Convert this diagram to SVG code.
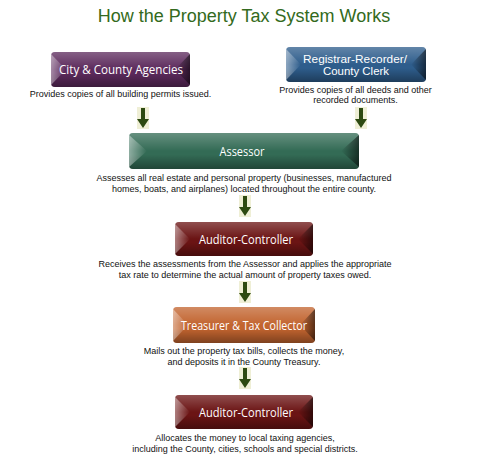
<svg xmlns="http://www.w3.org/2000/svg" width="485" height="460" viewBox="0 0 485 460">
<style>
.title{font-family:"Liberation Sans",Arial,sans-serif;font-size:18px;fill:#336a20;text-anchor:middle}
.lbl{font-family:"Open Sans","DejaVu Sans",sans-serif;font-size:12px;fill:#ffffff;text-anchor:middle}
.lbl2{font-family:"Liberation Sans",Arial,sans-serif;font-size:11px;fill:#ffffff;text-anchor:middle}
.desc{font-family:"Liberation Sans",Arial,sans-serif;font-size:9px;fill:#111111;text-anchor:middle}
.abg{fill:#efefd6}
.arr{fill:#2d4a12}
</style>
<defs>
<linearGradient id="gl" x1="0" y1="0" x2="1" y2="0"><stop offset="0" stop-color="#fff" stop-opacity="0.45"/><stop offset="1" stop-color="#fff" stop-opacity="0"/></linearGradient>
<linearGradient id="gr" x1="0" y1="0" x2="1" y2="0"><stop offset="0" stop-color="#000" stop-opacity="0"/><stop offset="1" stop-color="#000" stop-opacity="0.55"/></linearGradient>
<linearGradient id="gt" x1="0" y1="0" x2="0" y2="1"><stop offset="0" stop-color="#fff" stop-opacity="0.25"/><stop offset="0.5" stop-color="#fff" stop-opacity="0"/><stop offset="0.6" stop-color="#000" stop-opacity="0"/><stop offset="1" stop-color="#000" stop-opacity="0.35"/></linearGradient>
</defs>
<text class="title" x="244" y="22">How the Property Tax System Works</text>

<g id="city">
<rect x="51" y="52" width="139" height="35" rx="4" fill="#5c2a5c"/>
<rect x="51" y="52" width="139" height="35" rx="4" fill="url(#gt)"/>
<path d="M51,54 L66,69.5 L51,85 Z" fill="url(#gl)"/>
<path d="M190,54 L175,69.5 L190,85 Z" fill="url(#gr)"/>
<text class="lbl" x="121" y="74" textLength="124" lengthAdjust="spacingAndGlyphs">City &amp; County Agencies</text>
<text class="desc" x="120.5" y="97">Provides copies of all building permits issued.</text>
</g>

<g id="registrar">
<rect x="286" y="47" width="140" height="35" rx="4" fill="#2e5d8c"/>
<rect x="286" y="47" width="140" height="35" rx="4" fill="url(#gt)"/>
<path d="M286,49 L301,64.5 L286,80 Z" fill="url(#gl)"/>
<path d="M426,49 L411,64.5 L426,80 Z" fill="url(#gr)"/>
<text class="lbl2" x="355" y="62.5" textLength="104" lengthAdjust="spacingAndGlyphs">Registrar-Recorder/</text>
<text class="lbl2" x="356" y="75" textLength="66" lengthAdjust="spacingAndGlyphs">County Clerk</text>
<text class="desc" x="355.5" y="93">Provides copies of all deeds and other</text>
<text class="desc" x="355.5" y="103">recorded documents.</text>
</g>

<g id="assessor">
<rect x="129" y="133" width="230" height="36" rx="4" fill="#336b55"/>
<rect x="129" y="133" width="230" height="36" rx="4" fill="url(#gt)"/>
<path d="M129,135 L147,151 L129,167 Z" fill="url(#gl)"/>
<path d="M359,135 L341,151 L359,167 Z" fill="url(#gr)"/>
<text class="lbl" x="242" y="155.5" textLength="45" lengthAdjust="spacingAndGlyphs">Assessor</text>
<text class="desc" x="244" y="181">Assesses all real estate and personal property (businesses, manufactured</text>
<text class="desc" x="244" y="191.5">homes, boats, and airplanes) located throughout the entire county.</text>
</g>

<g id="auditor1">
<rect x="175" y="222" width="138" height="34" rx="4" fill="#6b1414"/>
<rect x="175" y="222" width="138" height="34" rx="4" fill="url(#gt)"/>
<path d="M175,224 L190,239 L175,254 Z" fill="url(#gl)"/>
<path d="M313,224 L298,239 L313,254 Z" fill="url(#gr)"/>
<text class="lbl" x="246" y="243.5" textLength="94" lengthAdjust="spacingAndGlyphs">Auditor-Controller</text>
<text class="desc" x="245" y="267">Receives the assessments from the Assessor and applies the appropriate</text>
<text class="desc" x="245" y="277.5">tax rate to determine the actual amount of property taxes owed.</text>
</g>

<g id="treasurer">
<rect x="173" y="307" width="142" height="36" rx="4" fill="#c2642f"/>
<rect x="173" y="307" width="142" height="36" rx="4" fill="url(#gt)"/>
<path d="M173,309 L188,325 L173,341 Z" fill="url(#gl)"/>
<path d="M315,309 L300,325 L315,341 Z" fill="url(#gr)"/>
<text class="lbl" x="244" y="329.5" textLength="126" lengthAdjust="spacingAndGlyphs">Treasurer &amp; Tax Collector</text>
<text class="desc" x="244" y="354">Mails out the property tax bills, collects the money,</text>
<text class="desc" x="244" y="364.5">and deposits it in the County Treasury.</text>
</g>

<g id="auditor2">
<rect x="175" y="395" width="138" height="34" rx="4" fill="#6b1414"/>
<rect x="175" y="395" width="138" height="34" rx="4" fill="url(#gt)"/>
<path d="M175,397 L190,412 L175,427 Z" fill="url(#gl)"/>
<path d="M313,397 L298,412 L313,427 Z" fill="url(#gr)"/>
<text class="lbl" x="246" y="416.5" textLength="94" lengthAdjust="spacingAndGlyphs">Auditor-Controller</text>
<text class="desc" x="245" y="441">Allocates the money to local taxing agencies,</text>
<text class="desc" x="245" y="451.5">including the County, cities, schools and special districts.</text>
</g>

<g id="connectors">
<g transform="translate(143,107)"><rect class="abg" x="-6" y="0" width="12" height="22"/><path class="arr" d="M-2,1 H2 V12 H6 L0,21 L-6,12 H-2 Z"/></g>
<g transform="translate(361,107)"><rect class="abg" x="-6" y="0" width="12" height="22"/><path class="arr" d="M-2,1 H2 V12 H6 L0,21 L-6,12 H-2 Z"/></g>
<g transform="translate(245,195)"><rect class="abg" x="-6" y="0" width="12" height="22"/><path class="arr" d="M-2,1 H2 V12 H6 L0,21 L-6,12 H-2 Z"/></g>
<g transform="translate(245,281)"><rect class="abg" x="-6" y="0" width="12" height="22"/><path class="arr" d="M-2,1 H2 V12 H6 L0,21 L-6,12 H-2 Z"/></g>
<g transform="translate(245,367)"><rect class="abg" x="-6" y="0" width="12" height="22"/><path class="arr" d="M-2,1 H2 V12 H6 L0,21 L-6,12 H-2 Z"/></g>
</g>
</svg>
